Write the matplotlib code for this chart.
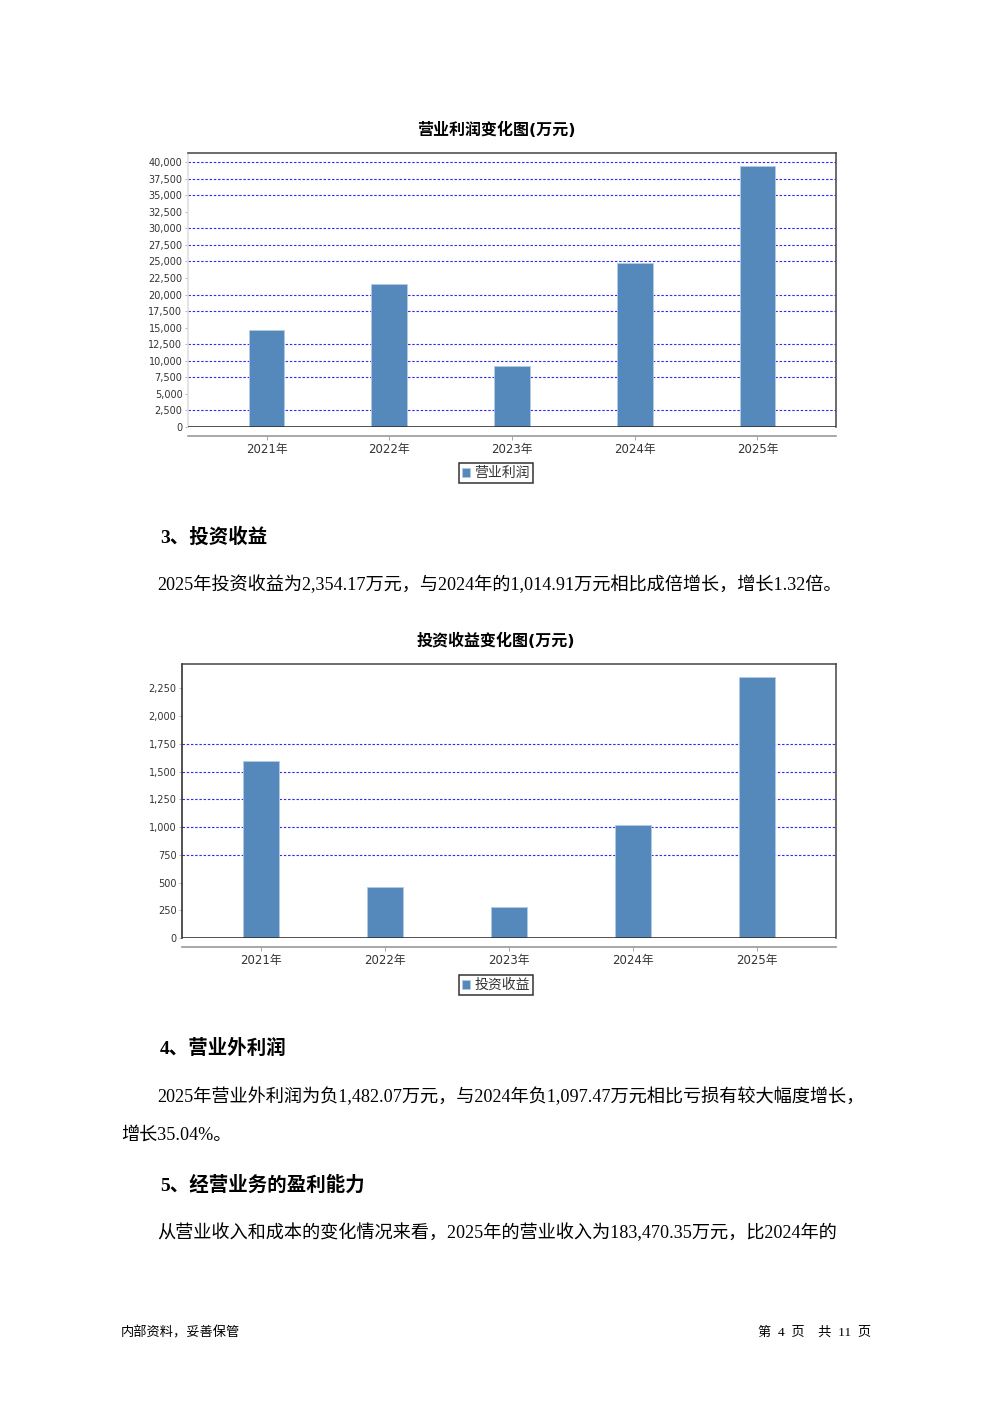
import matplotlib
matplotlib.use('Agg')
import matplotlib.pyplot as plt
from matplotlib.ticker import FuncFormatter, MultipleLocator

plt.rcParams['font.family'] = ['DejaVu Sans', 'Noto Sans CJK SC']

# 数据
years = ['2021年', '2022年', '2023年', '2024年', '2025年']
op_profit = [14660, 21610, 9220, 24790, 39450]          # 营业利润(万元)
invest_income = [1593, 456, 282, 1014.91, 2354.17]      # 投资收益(万元)
grid_op = [2500, 7500, 10000, 12500, 17500, 20000, 25000, 27500, 30000, 35000, 37500, 40000]
grid_inv = [750, 1000, 1250, 1500, 1750]

W, H = 992, 1403
fig = plt.figure(figsize=(W / 100, H / 100), dpi=100)

BAR = '#5588bb'
SERIF = ['Liberation Serif', 'Noto Sans CJK SC']


def box(l, t, r, b):
    return [l / W, 1 - b / H, (r - l) / W, (b - t) / H]


def chart(rect, title, title_y, vals, grid, step, ymax, label, legend_top, left_color):
    ax = fig.add_axes(rect)
    x = list(range(len(years)))
    ax.bar(x, vals, width=0.29, color=BAR, edgecolor='#b4cbe4', linewidth=0.6,
           label=label, zorder=3)
    ax.hlines(grid, 0, 1, transform=ax.get_yaxis_transform(), colors='#2b2bff',
              linestyles=(0, (2.2, 1.6)), linewidth=0.8, zorder=1)
    ax.axhline(0, color='#333333', linewidth=1.2, zorder=4)
    ax.set_xlim(-0.64, 4.64)
    ax.set_ylim(0, ymax)
    ax.yaxis.set_major_locator(MultipleLocator(step))
    ax.yaxis.set_major_formatter(FuncFormatter(lambda v, p: f'{v:,.0f}'))
    ax.set_xticks(x)
    ax.set_xticklabels(years)
    ax.tick_params(axis='y', length=2, width=0.6, color='#aaaaaa', pad=2,
                   labelsize=7, labelcolor='#333333')
    ax.tick_params(axis='x', length=3, width=0.6, color='#999999', pad=2,
                   labelsize=8.5, labelcolor='#333333')
    for s in ['top', 'right']:
        ax.spines[s].set_color('#444444')
        ax.spines[s].set_linewidth(1.1)
    ax.spines['left'].set_color(left_color)
    ax.spines['left'].set_linewidth(1.1)
    ax.spines['bottom'].set_position(('outward', 6.8))
    ax.spines['bottom'].set_color('#999999')
    ax.spines['bottom'].set_linewidth(1.2)

    fig.text(0.5, 1 - title_y / H, title, ha='center', va='center',
             fontsize=11.5, fontweight='bold')
    leg = ax.legend(loc='upper center', bbox_to_anchor=(0.5, 1 - legend_top / H),
                    bbox_transform=fig.transFigure, fancybox=False, edgecolor='black',
                    handlelength=0.6, handleheight=0.6, handletextpad=0.3,
                    borderpad=0.22, borderaxespad=0, fontsize=10)
    leg.get_frame().set_linewidth(1.1)
    for t in leg.get_texts():
        t.set_color('#333333')
    return ax


chart(box(188, 153, 836, 427), '营业利润变化图(万元)', 130, op_profit, grid_op,
      2500, 41360, '营业利润', 463, '#dddddd')
chart(box(182, 664, 836, 938), '投资收益变化图(万元)', 641, invest_income, grid_inv,
      250, 2470, '投资收益', 975, '#222222')


def txt(x, y, s, size=13.1, bold=False, ha='left'):
    fig.text(x / W, 1 - y / H, s, ha=ha, va='center', fontsize=size,
             fontweight='bold' if bold else 'normal', family=SERIF)


txt(160, 537, '3、投资收益', 14, True)
txt(157, 585, '2025年投资收益为2,354.17万元，与2024年的1,014.91万元相比成倍增长，增长1.32倍。')
txt(160, 1048, '4、营业外利润', 14, True)
txt(157, 1097, '2025年营业外利润为负1,482.07万元，与2024年负1,097.47万元相比亏损有较大幅度增长，')
txt(121, 1135, '增长35.04%。')
txt(160, 1185, '5、经营业务的盈利能力', 14, True)
txt(157, 1233, '从营业收入和成本的变化情况来看，2025年的营业收入为183,470.35万元，比2024年的')
txt(121, 1333, '内部资料，妥善保管', 9.5)
txt(871, 1333, '第  4  页    共  11  页', 9.5, ha='right')

plt.savefig('out.png', dpi=100)
